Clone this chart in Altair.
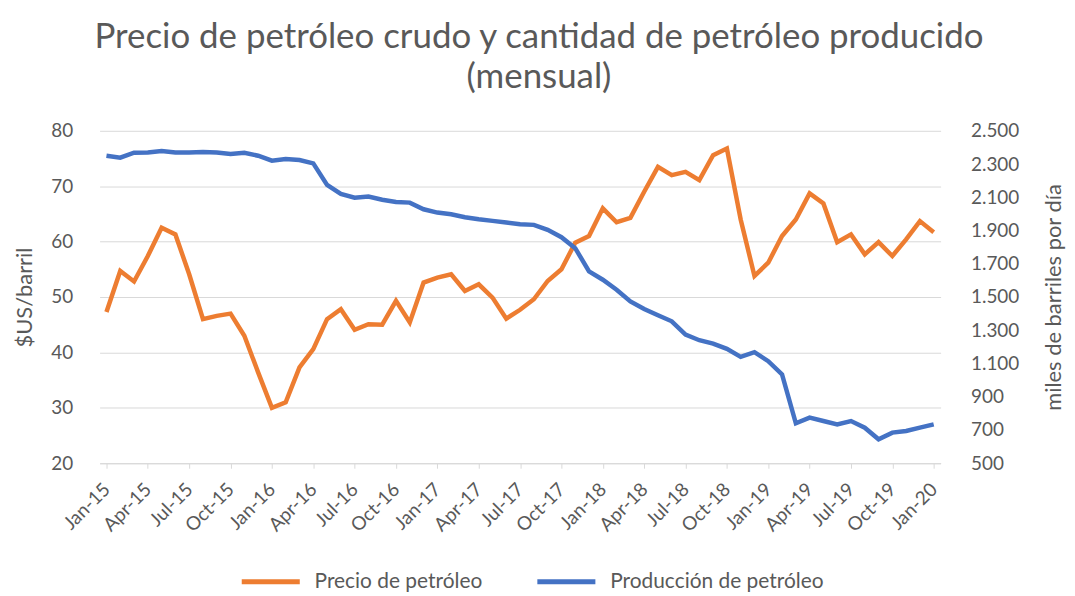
import altair as alt
import pandas as pd

# Months (categories)
nombres_mes = ["Jan", "Feb", "Mar", "Apr", "May", "Jun", "Jul", "Aug", "Sep", "Oct", "Nov", "Dec"]
anios = ["15", "16", "17", "18", "19", "20"]
meses = [f"{m}-{a}" for a in anios for m in nombres_mes][:61]

# Precio de petróleo ($US/barril)
precio = [47.3, 54.7, 52.8, 57.4, 62.5, 61.3, 54.1, 46.0, 46.6, 47.0, 43.0, 36.4,
          30.0, 31.0, 37.3, 40.6, 46.0, 47.8, 44.1, 45.1, 45.0, 49.3, 45.4, 52.6,
          53.5, 54.1, 51.1, 52.3, 49.9, 46.1, 47.7, 49.6, 52.9, 55.0, 59.8, 61.0,
          66.0, 63.5, 64.3, 69.0, 73.5, 72.0, 72.6, 71.1, 75.6, 76.8, 64.0, 53.8,
          56.2, 61.0, 64.0, 68.7, 66.9, 59.9, 61.3, 57.7, 59.9, 57.4, 60.4, 63.7, 61.7]

# Producción de petróleo (miles de barriles por día)
produccion = [2350, 2338, 2368, 2370, 2378, 2370, 2370, 2372, 2370, 2360, 2368, 2350,
              2320, 2330, 2324, 2304, 2174, 2120, 2098, 2104, 2085, 2072, 2068, 2028,
              2008, 1998, 1980, 1968, 1958, 1948, 1938, 1934, 1904, 1860, 1794, 1654,
              1604, 1544, 1474, 1428, 1390, 1354, 1274, 1240, 1220, 1188, 1140, 1168,
              1114, 1034, 740, 774, 754, 734, 754, 714, 644, 684, 694, 714, 734]

series = ["Precio de petróleo", "Producción de petróleo"]
colores = ["#ED7D31", "#4472C4"]
ticks_x = meses[::3]
ticks_izq = [20, 30, 40, 50, 60, 70, 80]
ticks_der = [500, 700, 900, 1100, 1300, 1500, 1700, 1900, 2100, 2300, 2500]

df = pd.DataFrame({"mes": meses, "precio": precio, "produccion": produccion})

FONT = "Lato"
GRIS = "#595959"

color_scale = alt.Scale(domain=series, range=colores)

base = alt.Chart(df).encode(
    x=alt.X(
        "mes:O",
        sort=meses,
        scale=alt.Scale(type="point", padding=0.5),
        axis=alt.Axis(
            values=ticks_x,
            title=None,
            labelAngle=-45,
            labelAlign="right",
            labelBaseline="middle",
            labelPadding=18,
            tickSize=5,
            tickColor="#D9D9D9",
            domainColor="#D9D9D9",
            grid=False,
        ),
    )
)

linea_precio = base.mark_line(strokeWidth=4.5).encode(
    y=alt.Y(
        "precio:Q",
        scale=alt.Scale(domain=[20, 80], nice=False, zero=False),
        axis=alt.Axis(
            values=ticks_izq,
            title="$US/barril",
            grid=True,
            gridColor="#D9D9D9",
            domain=False,
            ticks=False,
            labelPadding=27,
            titlePadding=14,
        ),
    ),
    color=alt.Color(
        "serie:N",
        scale=color_scale,
        legend=alt.Legend(
            title=None,
            orient="none",
            legendX=140,
            legendY=421,
            direction="horizontal",
            symbolType="stroke",
            symbolStrokeWidth=5,
            symbolSize=3400,
            labelOffset=12,
            labelLimit=400,
            columnPadding=44,
        ),
    ),
).transform_calculate(serie="'Precio de petróleo'")

linea_prod = base.mark_line(strokeWidth=4.5).encode(
    y=alt.Y(
        "produccion:Q",
        scale=alt.Scale(domain=[500, 2500], nice=False, zero=False),
        axis=alt.Axis(
            orient="right",
            values=ticks_der,
            title="miles de barriles por día",
            titleAngle=270,
            titleBaseline="top",
            grid=False,
            domain=False,
            ticks=False,
            labelPadding=30,
            titlePadding=25,
            labelExpr="replace(format(datum.value, ','), ',', '.')",
        ),
    ),
    color=alt.Color("serie:N", scale=color_scale),
).transform_calculate(serie="'Producción de petróleo'")

chart = (
    alt.layer(linea_precio, linea_prod)
    .resolve_scale(y="independent")
    .properties(
        width=845,
        height=334,
        autosize=alt.AutoSizeParams(type="none"),
        padding={"left": 92, "top": 122, "right": 127, "bottom": 130},
        title=alt.TitleParams(
            text=["Precio de petróleo crudo y cantidad de petróleo producido", "(mensual)"],
            font=FONT,
            fontSize=35,
            fontWeight="normal",
            color=GRIS,
            anchor="middle",
            lineHeight=40,
            offset=27,
            dx=19,
        ),
    )
    .configure_view(stroke=None)
    .configure_axis(
        labelFont=FONT,
        labelFontSize=19,
        labelColor=GRIS,
        titleFont=FONT,
        titleFontSize=22,
        titleFontWeight="normal",
        titleColor=GRIS,
    )
    .configure_legend(labelFont=FONT, labelFontSize=21, labelColor=GRIS)
)

chart.save("out.html", embed_options={"renderer": "svg", "actions": False})
